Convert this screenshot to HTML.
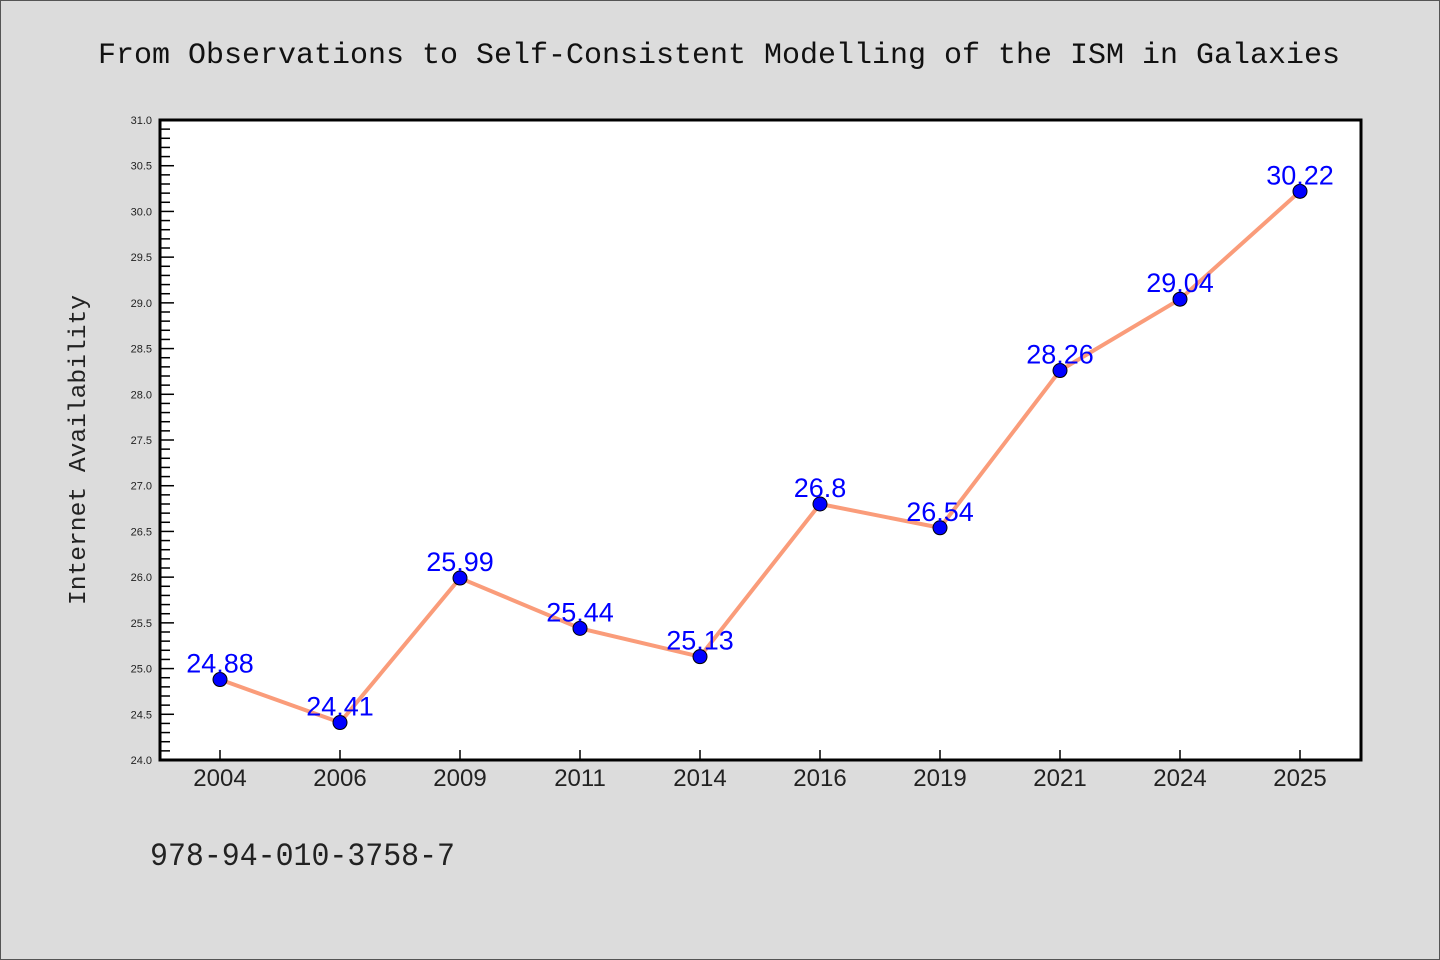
<!DOCTYPE html>
<html><head><meta charset="utf-8"><style>
html,body{margin:0;padding:0;background:#dcdcdc;}
svg{display:block;}
text{font-family:"WenQuanYi Zen Hei","Liberation Sans",sans-serif;}
.mono{font-family:"Liberation Mono","WenQuanYi Zen Hei",monospace;}
</style></head><body>
<svg id="chart" width="1440" height="960" xmlns="http://www.w3.org/2000/svg">
<rect x="0.5" y="0.5" width="1439" height="959" fill="#dcdcdc" stroke="#555"/>
<text class="mono" x="719" y="63" text-anchor="middle" font-size="30" textLength="1242" lengthAdjust="spacingAndGlyphs" fill="#111">From Observations to Self-Consistent Modelling of the ISM in Galaxies</text>
<rect x="160" y="120" width="1201" height="640" fill="#fff"/>
<g id="yticks"></g><g id="xticks"></g>
<rect x="160" y="120" width="1201" height="640" fill="none" stroke="#000" stroke-width="3"/>
<g id="series"></g>
<text class="mono" transform="translate(85,450) rotate(-90)" text-anchor="middle" font-size="24" textLength="310" lengthAdjust="spacingAndGlyphs" fill="#222">Internet Availability</text>
<text class="mono" x="150" y="865" font-size="32" textLength="305" lengthAdjust="spacingAndGlyphs" fill="#222">978-94-010-3758-7</text>
</svg>
<script>
const categories=["2004","2006","2009","2011","2014","2016","2019","2021","2024","2025"];
const values=[24.88,24.41,25.99,25.44,25.13,26.8,26.54,28.26,29.04,30.22];
const valueLabels=["24.88","24.41","25.99","25.44","25.13","26.8","26.54","28.26","29.04","30.22"];
const yTickLabels=["24.0","24.5","25.0","25.5","26.0","26.5","27.0","27.5","28.0","28.5","29.0","29.5","30.0","30.5","31.0"];
const yMin=24,yMax=31,pTop=120,pBottom=760,pLeft=160,pRight=1361;
const NS="http://www.w3.org/2000/svg";
function yS(v){return pBottom-(v-yMin)/(yMax-yMin)*(pBottom-pTop);}
function xS(i){return 220+i*(1200/categories.length);}
function mk(tag,attrs,parent){const e=document.createElementNS(NS,tag);for(const k in attrs)e.setAttribute(k,attrs[k]);parent.appendChild(e);return e;}
const yt=document.getElementById('yticks');
for(let k=0;k<=70;k++){const v=yMin+k*0.1;const major=k%5===0;
 const l=mk('line',{x1:pLeft,x2:pLeft+(major?14:10),y1:yS(v),y2:yS(v),stroke:'#000','stroke-width':1.5},yt);
 
 }
yTickLabels.forEach(s=>{const t=mk('text',{x:152,y:yS(parseFloat(s))+4,'text-anchor':'end','font-size':11,fill:'#222'},yt);t.textContent=s;
 
 });
const xt=document.getElementById('xticks');
categories.forEach((c,i)=>{const l=mk('line',{x1:xS(i),x2:xS(i),y1:pBottom,y2:pBottom-10,stroke:'#000','stroke-width':1.5},xt);
 
 
 const t=mk('text',{x:xS(i),y:786,'text-anchor':'middle','font-size':24,fill:'#222'},xt);t.textContent=c;
 
 });
const sg=document.getElementById('series');
const line=mk('polyline',{points:values.map((v,i)=>xS(i)+','+yS(v)).join(' '),fill:'none',stroke:'#fa9c7a','stroke-width':4,'stroke-linejoin':'round'},sg);


values.forEach((v,i)=>{const c=mk('circle',{cx:xS(i),cy:yS(v),r:7,fill:'#0000ff',stroke:'#000','stroke-width':1},sg);
 
 });
values.forEach((v,i)=>{const t=mk('text',{x:xS(i),y:yS(v)-7,'text-anchor':'middle','font-size':27,fill:'#0000ff'},sg);t.textContent=valueLabels[i];
 
 });
</script>
</body></html>
